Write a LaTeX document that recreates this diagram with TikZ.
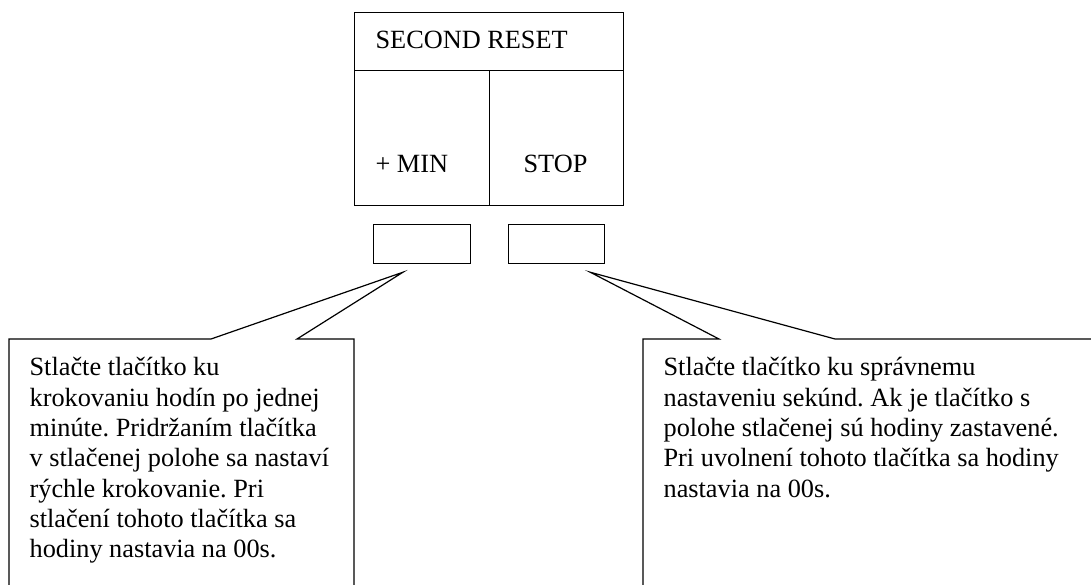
\documentclass[tikz,border=0pt]{standalone}
\usepackage{fontspec}
\setmainfont{Liberation Serif}
\frenchspacing
\begin{document}
\begin{tikzpicture}[x=1pt,y=-1pt,line width=1.2pt,
  panel/.style={draw,rectangle,inner sep=0pt,anchor=north west},
  btn/.style={draw,rectangle,inner sep=0pt,anchor=north west,minimum width=97pt,minimum height=39pt},
  label/.style={font=\fontsize{26.3}{30.3}\selectfont,inner sep=0pt},
  note/.style={font=\fontsize{26.3}{30.3}\selectfont,inner sep=0pt,align=left,anchor=north west}]
\useasboundingbox (0,0) rectangle (1091,584);
% top panel
\node[panel,minimum width=269pt,minimum height=58pt] (title) at (354,12) {};
\node[panel,minimum width=135pt,minimum height=135pt] (min) at (354,70) {};
\node[panel,minimum width=134pt,minimum height=135pt] (stop) at (489,70) {};
\node[label,anchor=base west] (titletext) at (375,48) {SECOND RESET};
\node[label,anchor=base west] (mintext) at (375,172) {+ MIN};
\node[label,anchor=base west] (stoptext) at (523,172) {STOP};
% buttons
\node[btn] (btnL) at (373,224) {};
\node[btn,minimum width=96pt] (btnR) at (508,224) {};
% tail tips
\coordinate (tipL) at ([xshift=30pt,yshift=-8pt]btnL.south west);
\coordinate (tipR) at ([xshift=-15pt,yshift=-8pt]btnR.south east);
% left callout
\draw (9,590) -- (9,339) -- (211,339) -- (tipL) -- (297,339) -- (354,339) -- (354,590);
% right callout
\draw (643,590) -- (643,339) -- (719,339) -- (tipR) -- (835,339) -- (1100,339);
% texts
\node[note] (noteL) at (29,357) {Stlačte tlačítko ku\\krokovaniu hodín po jednej\\minúte. Pridržaním tlačítka\\v stlačenej polohe sa nastaví\\rýchle krokovanie. Pri\\stlačení tohoto tlačítka sa\\hodiny nastavia na 00s.};
\node[note] (noteR) at (663,357) {Stlačte tlačítko ku správnemu\\nastaveniu sekúnd. Ak je tlačítko s\\polohe stlačenej sú hodiny zastavené.\\Pri uvolnení tohoto tlačítka sa hodiny\\nastavia na 00s.};
\end{tikzpicture}
\end{document}
